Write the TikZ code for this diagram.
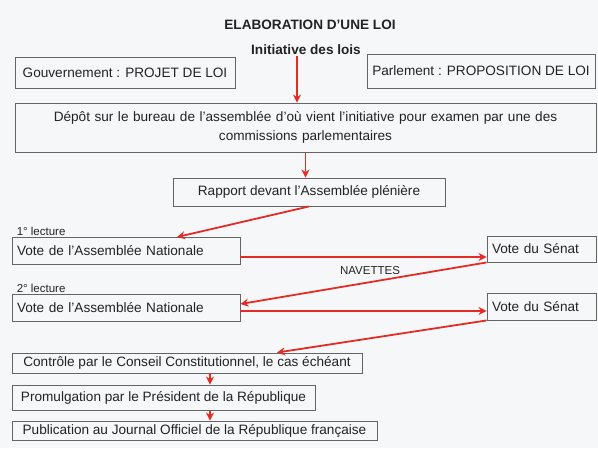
\documentclass[tikz,border=0pt]{standalone}
\usepackage{fontspec}
\setmainfont{Liberation Sans}
\usetikzlibrary{arrows.meta}

\definecolor{rouge}{RGB}{226,44,38}
\definecolor{trait}{RGB}{100,100,100}
\definecolor{fond}{RGB}{246,247,249}
\definecolor{encre}{RGB}{35,35,35}

\tikzset{
    box/.style = {
        rectangle, 
        draw=trait, 
        line width=0.9pt, 
        inner xsep=5pt, 
        inner ysep=0pt, 
        text=encre, 
        font=\fontsize{13.6}{19}\selectfont
    },
    note/.style = {
        text=encre, 
        inner sep=1pt, 
        font=\fontsize{11.5}{13}\selectfont
    },
    arrow/.style = {
        draw=rouge, 
        line width=1.8pt, 
        -{Stealth[length=8pt, width=8pt]}
    }
}

\begin{document}
\begin{tikzpicture}[x=1pt, y=-1pt]

\fill [fond] (0,0) rectangle (598,448);

\node (titre) [note, font=\bfseries\fontsize{13.6}{16}\selectfont] at (310,25) {ELABORATION D'UNE LOI};
\node (init) [note, font=\bfseries\fontsize{13.6}{16}\selectfont] at (306,50) {Initiative des lois};

\node (gouv) [box, minimum width=220pt, minimum height=31pt] at (125,72.5) {Gouvernement : PROJET DE LOI};
\node (parl) [box, minimum width=228pt, minimum height=34pt] at (481,71) {Parlement : PROPOSITION DE LOI};
\node (depot) [box, text width=571pt, align=center, minimum height=49pt] at (305.5,127.5) {
Dépôt sur le bureau de l'assemblée d'où vient l'initiative pour examen par une des\\
commissions parlementaires
};
\node (rapport) [box, minimum width=272pt, minimum height=28pt] at (309,192) {Rapport devant l'Assemblée plénière};

\node (an1) [box, text width=218pt, align=left, minimum height=27pt] at (126,251) {Vote de l'Assemblée Nationale};
\node (lect1) [note, anchor=south west, xshift=4pt] at (an1.north west) {1° lecture};
\node (senat1) [box, text width=99pt, align=left, minimum height=26pt] at (541.5,249) {Vote du Sénat};
\node (navettes) [note] at (370,271) {NAVETTES};
\node (an2) [box, text width=218pt, align=left, minimum height=27pt] at (126,308) {Vote de l'Assemblée Nationale};
\node (lect2) [note, anchor=south west, xshift=4pt] at (an2.north west) {2° lecture};
\node (senat2) [box, text width=99pt, align=left, minimum height=27pt] at (541.5,306.5) {Vote du Sénat};

\node (controle) [box, minimum width=350pt, minimum height=20pt] at (187,363) {Contrôle par le Conseil Constitutionnel, le cas échéant};
\node (promul) [box, minimum width=303pt, minimum height=25pt] at (163.5,397.5) {Promulgation par le Président de la République};
\node (publi) [box, minimum width=365pt, minimum height=19pt] at (194.5,430.5) {Publication au Journal Officiel de la République française};

% Arrows
\draw [arrow] ([xshift=-9pt]init.south) -- ([xshift=-8.5pt]depot.north);
\draw [arrow] (depot.south) -- ([xshift=-3.5pt]rapport.north);
\draw [arrow] (rapport.south) -- ([xshift=51pt]an1.north);
\draw [arrow] ([yshift=-6pt]an1.east) -- ([yshift=-8pt]senat1.west);
\draw [arrow] (senat1.south west) -- ([yshift=4pt]an2.east);
\draw [arrow] ([yshift=-3pt]an2.east) -- ([yshift=-4.5pt]senat2.west);
\draw [arrow] (senat2.south west) -- ([xshift=90pt]controle.north);
\draw [arrow] ([xshift=23pt]controle.south) -- ([xshift=46.5pt]promul.north);
\draw [arrow] ([xshift=46.5pt]promul.south) -- ([xshift=15.5pt]publi.north);

\end{tikzpicture}
\end{document}
